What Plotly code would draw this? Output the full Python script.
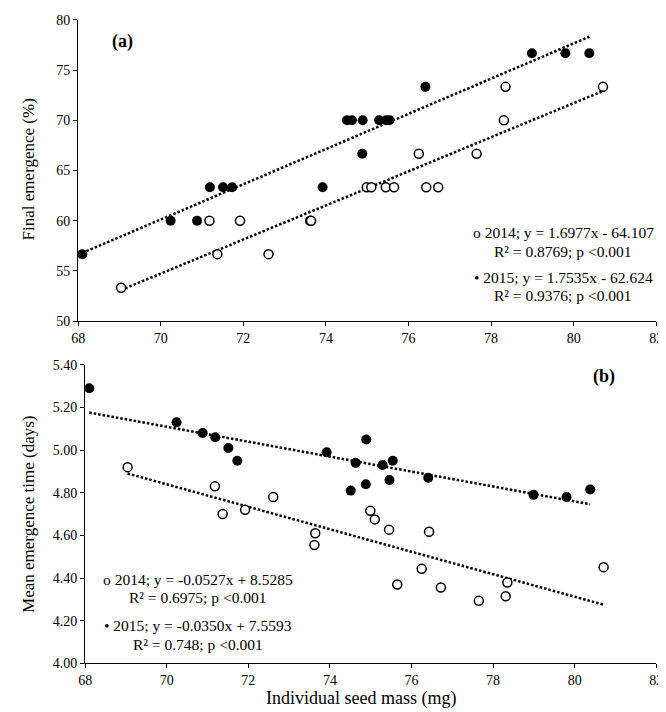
import plotly.graph_objects as go

W, H = 666, 712

# ---- data ----
# 2014 (open circles)
mass_2014 = [69.04, 71.18, 71.37, 71.92, 72.61, 73.62, 73.64, 74.99, 75.10,
             75.45, 75.65, 76.25, 76.43, 76.72, 77.65, 78.31, 78.35, 80.71]
emerg_2014 = [53.33, 60.0, 56.67, 60.0, 56.67, 60.0, 60.0, 63.33, 63.33,
              63.33, 63.33, 66.67, 63.33, 63.33, 66.67, 70.0, 73.33, 73.33]
met_2014 = [4.92, 4.83, 4.70, 4.72, 4.78, 4.555, 4.61, 4.715, 4.675,
            4.627, 4.37, 4.443, 4.617, 4.356, 4.293, 4.315, 4.379, 4.451]

# 2015 (filled circles)
mass_2015 = [68.10, 70.24, 70.88, 71.19, 71.51, 71.73, 73.92, 74.51, 74.63,
             74.89, 74.88, 75.29, 75.46, 75.54, 76.41, 78.99, 79.80, 80.38]
emerg_2015 = [56.67, 60.0, 60.0, 63.33, 63.33, 63.33, 63.33, 70.0, 70.0,
              70.0, 66.67, 70.0, 70.0, 70.0, 73.33, 76.67, 76.67, 76.67]
met_2015 = [5.29, 5.13, 5.08, 5.06, 5.01, 4.95, 4.99, 4.81, 4.94,
            5.05, 4.84, 4.93, 4.86, 4.95, 4.87, 4.79, 4.78, 4.815]

# regression coefficients (slope, intercept) as printed on the chart
fe_fit_2014 = (1.6977, -64.107)
fe_fit_2015 = (1.7535, -62.624)
met_fit_2014 = (-0.0527, 8.5285)
met_fit_2015 = (-0.0350, 7.5593)

fe_ticks = [50, 55, 60, 65, 70, 75, 80]
met_ticks = [4.0, 4.2, 4.4, 4.6, 4.8, 5.0, 5.2, 5.4]
mass_ticks = [68, 70, 72, 74, 76, 78, 80, 82]

text_a = ["o 2014; y = 1.6977x - 64.107", "R² = 0.8769; p <0.001",
          "• 2015; y = 1.7535x - 62.624", "R² = 0.9376; p <0.001"]
text_b = ["o 2014; y = -0.0527x + 8.5285", "R² = 0.6975; p <0.001",
          "• 2015; y = -0.0350x + 7.5593", "R² = 0.748; p <0.001"]

FONT = "Liberation Serif, Times New Roman, serif"


def px(x):
    return x / W


def py(y):
    return 1 - y / H


def fit_line(xs, coef):
    x0, x1 = min(xs), max(xs)
    return [x0, x1], [coef[0] * x0 + coef[1], coef[0] * x1 + coef[1]]


fig = go.Figure()

open_marker = dict(symbol="circle", size=9, color="white",
                   line=dict(color="black", width=1.5))
filled_marker = dict(symbol="circle", size=10, color="black",
                     line=dict(color="black", width=0))
dotline = dict(color="black", width=2.5, dash="2.5px,2px")

for xs, ys, coef, mk, ax in [
    (mass_2014, emerg_2014, fe_fit_2014, open_marker, ("x", "y")),
    (mass_2015, emerg_2015, fe_fit_2015, filled_marker, ("x", "y")),
    (mass_2014, met_2014, met_fit_2014, open_marker, ("x2", "y2")),
    (mass_2015, met_2015, met_fit_2015, filled_marker, ("x2", "y2")),
]:
    lx, ly = fit_line(xs, coef)
    fig.add_trace(go.Scatter(x=lx, y=ly, mode="lines", line=dotline,
                             xaxis=ax[0], yaxis=ax[1], showlegend=False,
                             hoverinfo="skip"))
    fig.add_trace(go.Scatter(x=xs, y=ys, mode="markers", marker=mk,
                             xaxis=ax[0], yaxis=ax[1], showlegend=False))

axis_common = dict(showgrid=False, zeroline=False, showline=True,
                   linecolor="black", linewidth=1.3, ticks="outside",
                   ticklen=4, tickwidth=1.2, tickcolor="black",
                   tickfont=dict(family=FONT, size=14, color="black"),
                   ticklabeloverflow="allow", mirror=False)

fig.update_layout(
    width=W, height=H,
    margin=dict(l=0, r=0, t=0, b=0),
    paper_bgcolor="white", plot_bgcolor="white",
    font=dict(family=FONT, color="black"),
    xaxis=dict(domain=[px(64.5), px(655)], range=[68, 82], tickvals=mass_ticks,
               anchor="y", **axis_common),
    yaxis=dict(domain=[py(312.7), py(5)], range=[50, 80], tickvals=fe_ticks,
               anchor="x", **axis_common),
    xaxis2=dict(domain=[px(71.7), px(655)], range=[68, 82], tickvals=mass_ticks,
                anchor="y2", **axis_common),
    yaxis2=dict(domain=[py(662.3), py(357.3)], range=[4.0, 5.4],
                tickvals=met_ticks, tickformat=".2f", anchor="x2",
                **axis_common),
)


def label(text, x, y, size, angle=0):
    return dict(text=text, x=px(x), y=py(y), xref="paper", yref="paper",
                xanchor="center", yanchor="middle", textangle=angle,
                showarrow=False, font=dict(family=FONT, size=size, color="black"))


ann = [label("<b>(a)</b>", 110, 27, 18), label("<b>(b)</b>", 602, 369, 18)]
for t, yy in zip(text_a, [221.7, 241.7, 268.3, 286.7]):
    ann.append(label(t, 560, yy, 15.5))
for t, yy in zip(text_b, [576.7, 595.5, 623.3, 642.7]):
    ann.append(label(t, 187, yy, 15.5))
ann.append(label("Final emergence (%)", 14, 158, 17, -90))
ann.append(label("Mean emergence time (days)", 14, 510, 17, -90))
ann.append(label("Individual seed mass (mg)", 353, 698, 18))
fig.update_layout(annotations=ann)

fig.write_html("out.html")
